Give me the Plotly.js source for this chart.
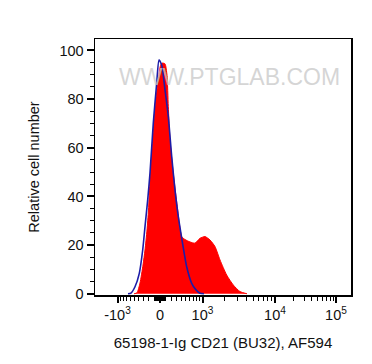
<!DOCTYPE html>
<html>
<head>
<meta charset="utf-8">
<script src="https://cdn.plot.ly/plotly-3.0.1.min.js"></script>
<style>html,body{margin:0;padding:0;background:#fff}#chart{width:372px;height:364px}</style>
</head>
<body>
<div id="chart"></div>
<script>
// Display channel (biexponential-scaled x position, 0..256) and relative cell number
var sampleChannel = [39, 42, 45, 48, 50, 52, 53.5, 55, 57.7, 60, 63.3, 65.5, 67, 70, 72, 73.3, 75, 78.3, 82.3, 86.7, 90, 95, 100, 105, 110, 115, 120, 125, 131.7, 138.3, 145, 152];
var sampleCount   = [0, 0.4, 4.4, 11.8, 18.0, 26.2, 34.4, 46.8, 63.2, 76.8, 87.9, 93.8, 94.8, 94.5, 89.8, 76.9, 63.2, 49.5, 35.8, 23.5, 22.3, 21.3, 20.8, 22.8, 23.5, 22.1, 19.4, 13.9, 7.7, 3.6, 0.9, 0];

var controlChannel = [33, 36, 40, 44.3, 47.7, 50, 52.7, 55, 58.3, 61.7, 64, 66.7, 70, 73.3, 76.7, 80, 83.3, 86.7, 91.7, 96.7, 101, 105, 109];
var controlCount   = [0, 0.3, 2.9, 8.4, 18.0, 27.6, 38.6, 49.6, 70.2, 86.6, 96.1, 94.0, 83.8, 72.8, 56.4, 42.6, 31.7, 22.9, 11.1, 4.3, 1.6, 0.2, 0];

var tickValues = [-1000, 0, 1000, 10000, 100000];
var tickLabels = ['-10<sup>3</sup>', '0', '10<sup>3</sup>', '10<sup>4</sup>', '10<sup>5</sup>'];
var minorValues = [];
[10,20,30,40,50,60,70,80,90,100,200,300,400,500,600,700,800,900].forEach(function(v){ minorValues.push(v, -v); });
[2000,3000,4000,5000,6000,7000,8000,9000,20000,30000,40000,50000,60000,70000,80000,90000].forEach(function(v){ minorValues.push(v); });

// biexponential-like display transform: value -> channel
var ZERO = 65, LIN = 42.5, W = 533;
var decadeChannel = {3: 107.5, 4: 180, 5: 241};
function toChannel(v) {
  var a = Math.abs(v);
  if (a <= 1000) return ZERO + Math.sign(v) * LIN * Math.asinh(a / W) / Math.asinh(1000 / W);
  var L = Math.log10(a), k = Math.floor(L);
  var p0 = decadeChannel[k] !== undefined ? decadeChannel[k] : 241 + (k - 5) * 61;
  var p1 = decadeChannel[k + 1] !== undefined ? decadeChannel[k + 1] : 241 + (k - 4) * 61;
  return p0 + (p1 - p0) * (L - k);
}

var traces = [
  {x: sampleChannel, y: sampleCount, type: 'scatter', mode: 'lines', fill: 'tozeroy',
   fillcolor: '#ff0000', line: {color: '#ff0000', width: 1, shape: 'spline', smoothing: 0.6}, hoverinfo: 'skip'},
  {x: controlChannel, y: controlCount, type: 'scatter', mode: 'lines',
   line: {color: '#1c1ca8', width: 1.6, shape: 'spline', smoothing: 0.6}, hoverinfo: 'skip'}
];

var layout = {
  width: 372, height: 364,
  margin: {l: 95, r: 21, t: 39, b: 69},
  paper_bgcolor: '#ffffff', plot_bgcolor: '#ffffff',
  showlegend: false,
  font: {family: 'Liberation Sans, Arial, sans-serif', color: '#111', size: 14},
  xaxis: {
    range: [0, 256], showgrid: false, zeroline: false,
    showline: true, linecolor: '#000', linewidth: 1.5, mirror: true,
    tickmode: 'array', tickvals: tickValues.map(toChannel), ticktext: tickLabels,
    ticks: 'outside', ticklen: 6, tickwidth: 2, tickcolor: '#000',
    tickfont: {size: 14.5, color: '#111'},
    minor: {tickmode: 'array', tickvals: minorValues.map(toChannel), ticks: 'outside', ticklen: 4, tickwidth: 1, tickcolor: '#000'},
    title: {text: '65198-1-Ig CD21 (BU32), AF594', font: {size: 15, color: '#111'}, standoff: 15}
  },
  yaxis: {
    range: [-0.5, 104.7], showgrid: false, zeroline: false,
    showline: true, linecolor: '#000', linewidth: 1.5, mirror: true,
    tickmode: 'array', tickvals: [0, 20, 40, 60, 80, 100],
    ticks: 'outside', ticklen: 7, tickwidth: 2, tickcolor: '#000',
    tickfont: {size: 14.5, color: '#111'},
    minor: {dtick: 5, tick0: 0, ticks: 'outside', ticklen: 4, tickwidth: 1, tickcolor: '#000'},
    title: {text: 'Relative cell number', font: {size: 14.5, color: '#111'}, standoff: 16}
  },
  annotations: [{
    text: 'WWW.PTGLAB.COM', xref: 'paper', yref: 'paper', x: 0.525, y: 0.91,
    showarrow: false, font: {size: 23, color: 'rgba(200,200,200,0.75)', family: 'Liberation Sans, Arial, sans-serif'}
  }]
};

Plotly.newPlot('chart', traces, layout, {staticPlot: true, displayModeBar: false});
</script>
</body>
</html>
